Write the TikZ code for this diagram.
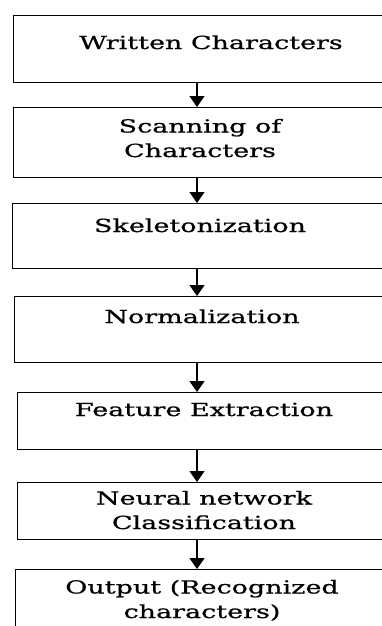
\documentclass[tikz,border=0pt]{standalone}
\usepackage{fontspec}
\setmainfont{DejaVu Serif}[FakeStretch=1.5, FakeBold=0.8]
\usetikzlibrary{positioning, arrows.meta}

\tikzset{
  stepbox/.style={draw, line width=1.4pt, anchor=north west, minimum width=400pt, inner sep=0pt},
  steptext/.style={anchor=base, inner sep=0pt, align=center, font=\fontsize{18}{24.5}\selectfont},
  flow/.style={-{Triangle[width=15pt,length=11pt]}, line width=1.4pt},
}

\begin{document}
\begin{tikzpicture}[x=1pt, y=-1pt]
                    \useasboundingbox (0, 0) rectangle (382, 626);
                    \clip (0, 0) rectangle (382, 626);
                    \coordinate (mid) at (197, 0);

                    \node [stepbox, minimum height=67pt] (written) at (13, 15) {};
                    \node [stepbox, minimum height=70pt] (scan) at (13, 107) {};
                    \node [stepbox, minimum height=65pt] (skel) at (12, 203) {};
                    \node [stepbox, minimum height=66pt] (norm) at (14, 296) {};
                    \node [stepbox, minimum height=57pt] (feat) at (17, 392) {};
                    \node [stepbox, minimum height=57pt] (nn) at (17, 482) {};
                    \node [stepbox, minimum height=70pt] (out) at (15, 569) {};

                    % two-line labels sit on the baseline of their last line
                    \node [steptext] (writtenT) at (211, 49) {Written Characters};
                    \node [steptext] (scanT) at (200, 157) {Scanning of\\Characters};
                    \node [steptext] (skelT) at (200, 232) {Skeletonization};
                    \node [steptext] (normT) at (202, 323) {Normalization};
                    \node [steptext] (featT) at (204, 416) {Feature Extraction};
                    \node [steptext] (nnT) at (204, 529) {Neural network\\Classification};
                    \node [steptext] (outT) at (202, 618) {Output (Recognized\\characters)};

                    \draw [flow] (written.south -| mid) -- (scan.north -| mid);
                    \draw [flow] (scan.south -| mid) -- (skel.north -| mid);
                    \draw [flow] (skel.south -| mid) -- (norm.north -| mid);
                    \draw [flow] (norm.south -| mid) -- (feat.north -| mid);
                    \draw [flow] (feat.south -| mid) -- (nn.north -| mid);
                    \draw [flow] (nn.south -| mid) -- (out.north -| mid);
                \end{tikzpicture}
\end{document}
